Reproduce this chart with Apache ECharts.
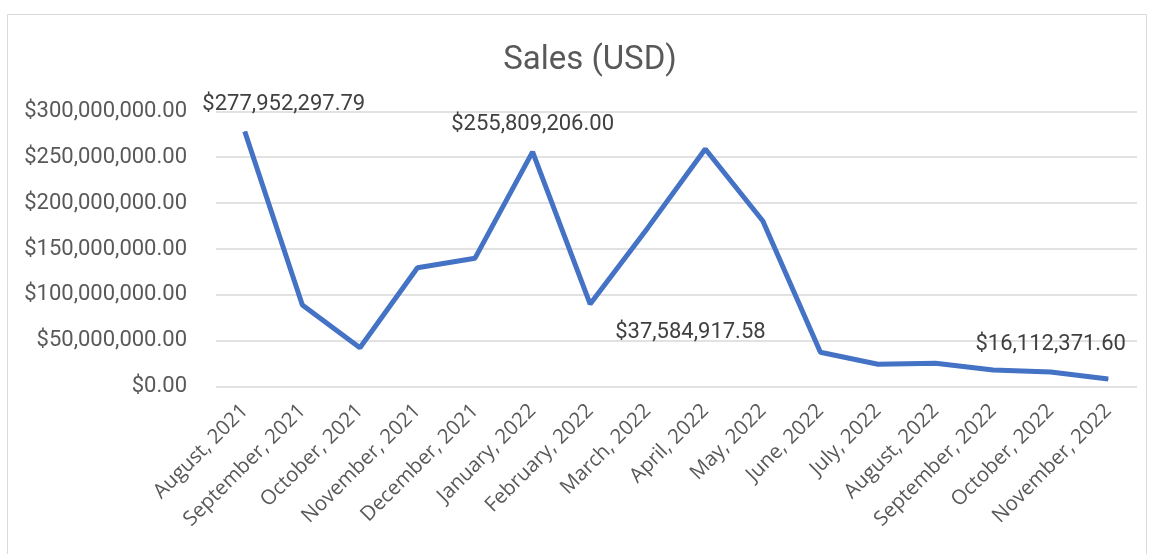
<!DOCTYPE html>
<html>
<head>
<meta charset="utf-8">
<script src="https://cdn.jsdelivr.net/npm/echarts@6/dist/echarts.min.js"></script>
<style>
html,body{margin:0;padding:0;background:#fff;}
#chart{width:1151px;height:554px;}
</style>
</head>
<body>
<div id="chart"></div>
<script>
const categories = ["August, 2021","September, 2021","October, 2021","November, 2021","December, 2021","January, 2022","February, 2022","March, 2022","April, 2022","May, 2022","June, 2022","July, 2022","August, 2022","September, 2022","October, 2022","November, 2022"];
const sales = [277952297.79, 89000000, 42500000, 129500000, 140000000, 255809206.00, 90000000, 173000000, 259000000, 180500000, 37584917.58, 24500000, 25500000, 18300000, 16112371.60, 8400000];
const labeledIndexes = [0, 5, 10, 14];

function money(v){
  return '$' + Number(v).toLocaleString('en-US',{minimumFractionDigits:2,maximumFractionDigits:2});
}
const labelOffsets = {0:[39,0],5:[0,0],10:[-130,8],14:[0,0]};
const data = sales.map((v,i)=>{
  if(labeledIndexes.indexOf(i) >= 0){
    return {value:v,label:{show:true,position:'top',distance:16,offset:labelOffsets[i],formatter:p=>money(p.value)}};
  }
  return v;
});

const chart = echarts.init(document.getElementById('chart'));
chart.setOption({
  animation:false,
  backgroundColor:'#fff',
  title:{text:'Sales (USD)',left:585,top:39,textAlign:'center',textStyle:{fontFamily:'Roboto',fontSize:33,fontWeight:'normal',color:'#595959'}},
  graphic:[{type:'rect',shape:{x:7.5,y:14.5,width:1139,height:560},style:{fill:'none',stroke:'#d9d9d9',lineWidth:1},silent:true}],
  grid:{left:216,right:14,top:111.3,bottom:167.3},
  xAxis:{type:'category',data:categories,boundaryGap:true,
    axisLine:{show:false},axisTick:{show:false},
    axisLabel:{rotate:45,interval:0,margin:21,fontFamily:'Open Sans',fontSize:20.5,color:'#595959'}},
  yAxis:{type:'value',min:0,max:300000000,interval:50000000,
    axisLine:{show:false},axisTick:{show:false},
    splitLine:{lineStyle:{color:'#d9d9d9',width:1.5}},
    axisLabel:{margin:29,fontFamily:'Roboto',fontSize:22,color:'#595959',formatter:v=>money(v)}},
  series:[{type:'line',data:data,symbol:'circle',symbolSize:1,showSymbol:true,
    lineStyle:{color:'#4472C4',width:5},itemStyle:{color:'#4472C4'},
    label:{show:false,fontFamily:'Roboto',fontSize:22,color:'#404040'}}]
});
</script>
</body>
</html>
